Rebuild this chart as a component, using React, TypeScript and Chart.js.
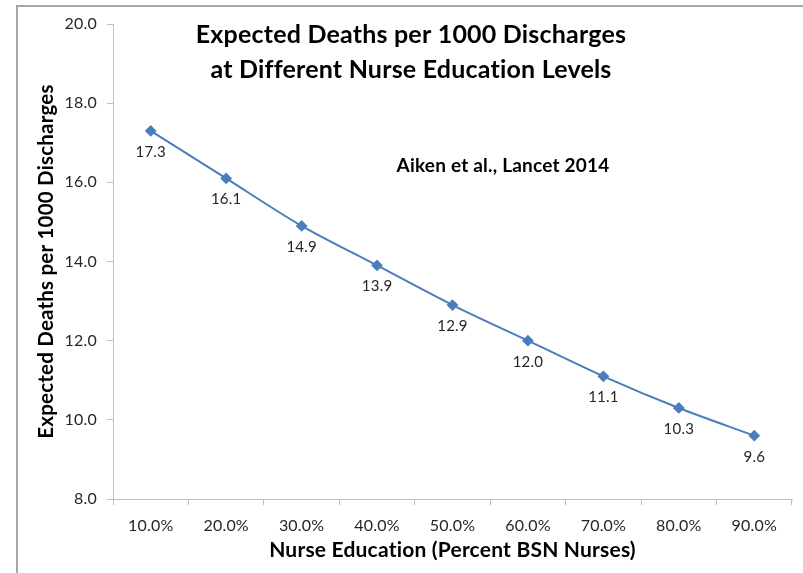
import React, { useEffect, useRef } from "react";
import { Chart, registerables } from "chart.js";

Chart.register(...registerables);

const categories = ["10.0%", "20.0%", "30.0%", "40.0%", "50.0%", "60.0%", "70.0%", "80.0%", "90.0%"];
const expectedDeaths = [17.3, 16.1, 14.9, 13.9, 12.9, 12.0, 11.1, 10.3, 9.6];
const titleLines = ["Expected Deaths per 1000 Discharges", "at Different Nurse Education Levels"];
const sourceNote = "Aiken et al., Lancet 2014";
const yAxisTitle = "Expected Deaths per 1000 Discharges";
const xAxisTitle = "Nurse Education (Percent BSN Nurses)";
const yMin = 8;
const yMax = 20;
const yStep = 2;

const FONT = "Lato";
const LINE_COLOR = "#4A7EBB";
const AXIS_COLOR = "#BFBFBF";

const overlayPlugin = {
  id: "overlay",
  beforeDraw(chart: any) {
    // non-zero spacing disables Lato's "ti" ligature
    (chart.ctx as any).letterSpacing = "0.2px";
  },
  afterDraw(chart: any) {
    const ctx = chart.ctx;
    ctx.save();
    // outer frame
    ctx.strokeStyle = "#A6A6A6";
    ctx.lineWidth = 2;
    ctx.beginPath();
    ctx.moveTo(17, 600);
    ctx.lineTo(17, 6);
    ctx.lineTo(820, 6);
    ctx.stroke();

    // data labels
    const meta = chart.getDatasetMeta(0);
    ctx.fillStyle = "#262626";
    ctx.font = `15px ${FONT}`;
    ctx.textAlign = "center";
    ctx.textBaseline = "middle";
    meta.data.forEach((pt: any, i: number) => {
      ctx.fillText(expectedDeaths[i].toFixed(1), pt.x, pt.y + 21);
    });

    // title
    ctx.fillStyle = "#000";
    ctx.font = `bold 25px ${FONT}`;
    ctx.fillText(titleLines[0], 411, 35);
    ctx.fillText(titleLines[1], 411, 70);

    // source note
    ctx.font = `bold 19px ${FONT}`;
    ctx.fillText(sourceNote, 503, 166);
    ctx.restore();
  },
};

export default function App() {
  const ref = useRef<HTMLCanvasElement>(null);
  useEffect(() => {
    const canvas = ref.current!;
    const chart = new Chart(canvas, {
      type: "line",
      data: {
        labels: categories,
        datasets: [
          {
            data: expectedDeaths,
            borderColor: LINE_COLOR,
            backgroundColor: LINE_COLOR,
            borderWidth: 2,
            pointStyle: "rectRot",
            pointRadius: 4.5,
            pointHoverRadius: 4.5,
            tension: 0.3,
            fill: false,
          },
        ],
      },
      options: {
        animation: false,
        responsive: false,
        devicePixelRatio: 1,
        layout: { padding: { top: 24, right: 11, left: 0, bottom: 0 } },
        plugins: { legend: { display: false }, tooltip: { enabled: false }, title: { display: false } },
        scales: {
          x: {
            type: "category",
            offset: true,
            grid: { offset: true, drawOnChartArea: false, drawTicks: true, tickLength: 6, color: AXIS_COLOR },
            border: { display: true, color: AXIS_COLOR, width: 1 },
            ticks: { color: "#262626", font: { family: FONT, size: 16 }, padding: 11, maxRotation: 0 },
            title: {
              display: true,
              text: xAxisTitle,
              color: "#000",
              font: { family: FONT, size: 21, weight: "bold" },
              padding: { top: 0, bottom: 10 },
            },
            afterFit: (s: any) => {
              s.height = 74;
            },
          },
          y: {
            min: yMin,
            max: yMax,
            grid: { drawOnChartArea: false, drawTicks: true, tickLength: 6, color: AXIS_COLOR },
            border: { display: true, color: AXIS_COLOR, width: 1 },
            ticks: {
              stepSize: yStep,
              color: "#262626",
              font: { family: FONT, size: 16 },
              padding: 10,
              callback: (v: any) => Number(v).toFixed(1),
            },
            title: {
              display: true,
              text: yAxisTitle,
              color: "#000",
              font: { family: FONT, size: 20.5, weight: "bold" },
              padding: { top: 34, bottom: 0 },
            },
            afterFit: (s: any) => {
              s.width = 113;
            },
          },
        },
      },
      plugins: [overlayPlugin],
    });
    return () => chart.destroy();
  }, []);
  return (
    <div style={{ position: "absolute", left: 0, top: 0, width: 803, height: 573, background: "#fff" }}>
      <canvas ref={ref} width={803} height={573} style={{ width: 803, height: 573, display: "block" }} />
    </div>
  );
}
